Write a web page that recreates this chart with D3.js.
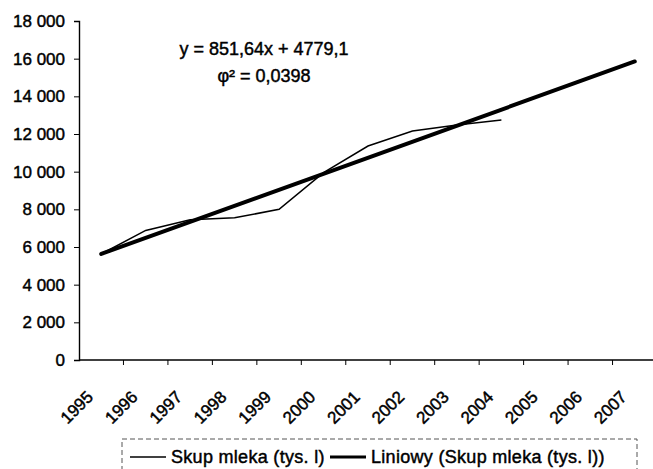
<!DOCTYPE html>
<meta charset="utf-8">
<style>
  body { margin: 0; background: #fff; }
  text { font-family: "Liberation Sans", Arial, sans-serif; fill: #000; stroke: #000; stroke-width: 0.45px; }
</style>
<body>
<div id="chart"></div>
<script src="https://cdn.jsdelivr.net/npm/d3@7"></script>
<script>
  // dane
  const years = ['1995', '1996', '1997', '1998', '1999', '2000', '2001',
    '2002', '2003', '2004', '2005', '2006', '2007'];
  const milkYears = ['1995', '1996', '1997', '1998', '1999', '2000', '2001',
    '2002', '2003', '2004'];
  const milkValues = [5630, 6880, 7450, 7550, 8000, 9950, 11360, 12160, 12480, 12740];
  const trendYears = ['1995', '2007'];
  const trendValues = [5630, 15850];
  const yTicks = [0, 2000, 4000, 6000, 8000, 10000, 12000, 14000, 16000, 18000];
  const equation = ['y = 851,64x + 4779,1', 'φ² = 0,0398'];
  const legendLabels = ['Skup mleka (tys. l)', 'Liniowy (Skup mleka (tys. l))'];

  const W = 653, H = 469;
  const mLeft = 79, mRight = 657, mTop = 21, mBottom = 360;

  const svg = d3.select('#chart').append('svg')
      .attr('width', W)
      .attr('height', H);

  const x = d3.scaleBand().domain(years).range([mLeft, mRight]).padding(0);
  const y = d3.scaleLinear().domain([0, 18000]).range([mBottom, mTop]);
  const cx = d => x(d) + x.bandwidth() / 2;

  const pl = d3.formatLocale({ decimal: ',', thousands: ' ', grouping: [3], currency: ['', ''] });
  const fmt = pl.format(',d');

  // oś Y
  const yAxis = svg.append('g')
      .attr('transform', `translate(${mLeft},0)`)
      .call(d3.axisLeft(y).tickValues(yTicks).tickFormat(fmt).tickSize(5).tickPadding(9));
  yAxis.selectAll('text').style('font-size', '17px');
  yAxis.select('.domain').attr('stroke-width', 1.4);

  // oś X - kreski między kategoriami
  const xg = svg.append('g');
  xg.append('line')
      .attr('x1', mLeft).attr('x2', mRight)
      .attr('y1', mBottom).attr('y2', mBottom)
      .attr('stroke', '#000').attr('stroke-width', 1.4);
  xg.selectAll('.tick').data(years.slice(1)).enter().append('line')
      .attr('x1', d => x(d)).attr('x2', d => x(d))
      .attr('y1', mBottom).attr('y2', mBottom + 5)
      .attr('stroke', '#000');
  xg.selectAll('.lab').data(years).enter().append('text')
      .attr('transform', d => `translate(${cx(d) - 7},${mBottom + 38}) rotate(-45)`)
      .attr('text-anchor', 'end')
      .style('font-size', '17px')
      .text(d => d);

  const line = d3.line().x(d => cx(d[0])).y(d => y(d[1]));

  svg.append('path')
      .datum(d3.zip(milkYears, milkValues))
      .attr('fill', 'none')
      .attr('stroke', '#000')
      .attr('stroke-width', 1.5)
      .attr('d', line);

  svg.append('path')
      .datum(d3.zip(trendYears, trendValues))
      .attr('fill', 'none')
      .attr('stroke', '#000')
      .attr('stroke-width', 4)
      .attr('stroke-linecap', 'round')
      .attr('d', line);

  // równanie
  svg.selectAll('.eq').data(equation).enter().append('text')
      .attr('x', 264)
      .attr('y', (d, i) => 55 + i * 27)
      .attr('text-anchor', 'middle')
      .style('font-size', '18px')
      .text(d => d);

  // legenda
  const lg = svg.append('g');
  lg.append('rect')
      .attr('x', 122).attr('y', 439)
      .attr('width', 515).attr('height', 45)
      .attr('fill', 'none')
      .attr('stroke', '#555')
      .attr('stroke-dasharray', '5,3');
  const items = [
    { x: 130, w: 1.5, label: legendLabels[0] },
    { x: 330, w: 3, label: legendLabels[1] }];
  items.forEach(it => {
    lg.append('line')
        .attr('x1', it.x).attr('x2', it.x + 36)
        .attr('y1', 457).attr('y2', 457)
        .attr('stroke', '#000').attr('stroke-width', it.w);
    lg.append('text')
        .attr('x', it.x + 41).attr('y', 463)
        .style('font-size', '18px')
        .style('letter-spacing', '0.3px')
        .text(it.label);
  });
</script>
